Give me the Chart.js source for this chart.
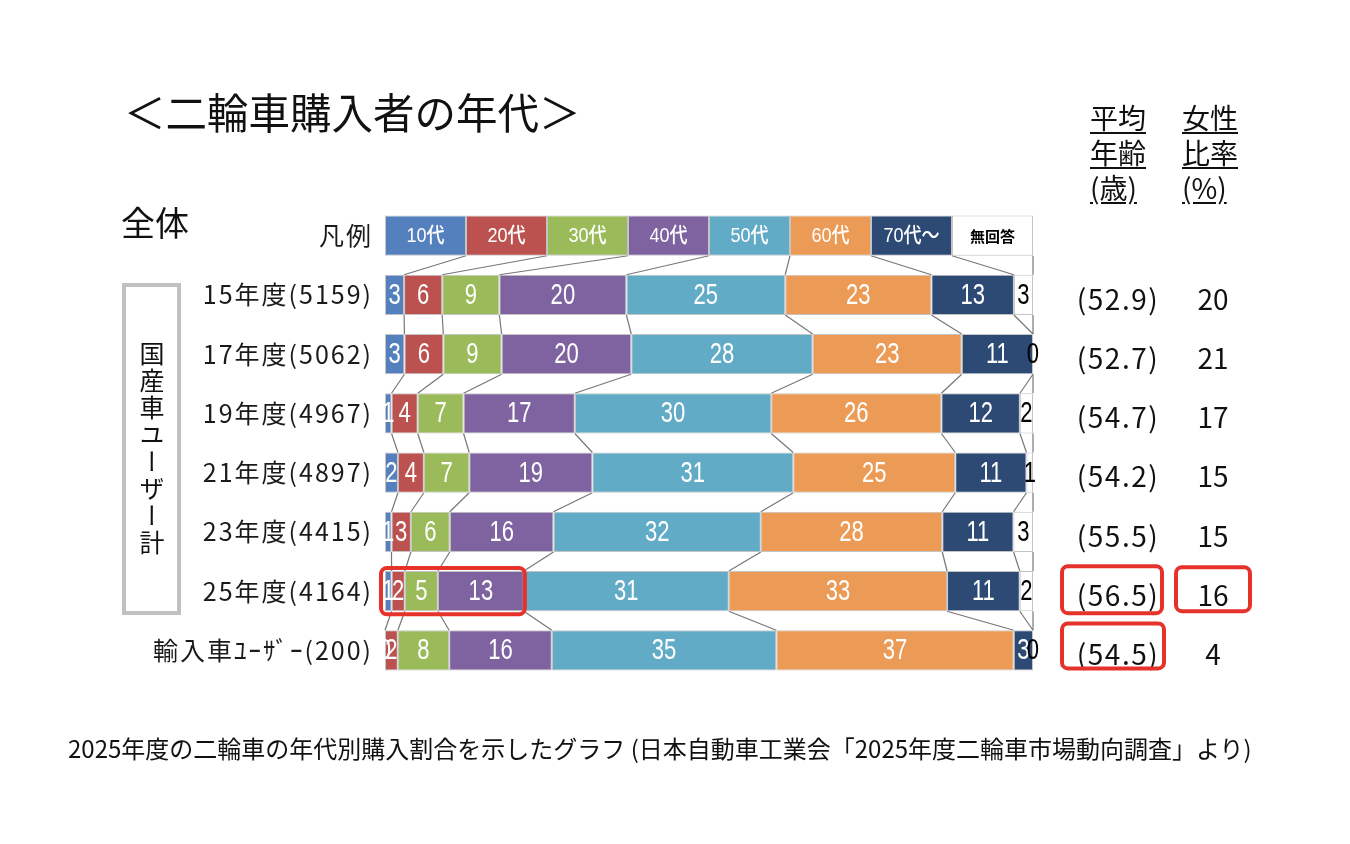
<!DOCTYPE html>
<html lang="ja">
<head>
<meta charset="utf-8">
<title>二輪車購入者の年代</title>
<script src="https://cdn.jsdelivr.net/npm/chart.js@4.4.1/dist/chart.umd.min.js"></script>
<style>
  html, body { margin: 0; padding: 0; background: #fff; }
  body { width: 1350px; height: 844px; position: relative; overflow: hidden; font-family: "Noto Sans CJK JP", sans-serif; color: #111; }
  #chart { position: absolute; left: 0; top: 0; }
  .txt { position: absolute; line-height: 1; white-space: nowrap; }
  #title { left: 124px; top: 91px; font-size: 41.5px; }
  #zentai { left: 121px; top: 205px; font-size: 34px; }
  .head { position: absolute; top: 100px; font-size: 28px; line-height: 35px; text-decoration: underline; text-underline-offset: 3px; }
  #box { position: absolute; left: 122px; top: 283px; width: 59px; height: 332px; border: 4px solid #c0c0c0; box-sizing: border-box;
         display: flex; align-items: center; justify-content: center; }
  #box span { writing-mode: vertical-rl; font-size: 25px; letter-spacing: 2px; line-height: 1; white-space: nowrap; }
  #caption { left: 68px; top: 736px; font-size: 24px; }
</style>
</head>
<body>
<canvas id="chart" width="1350" height="844"></canvas>
<div class="txt" id="title">＜二輪車購入者の年代＞</div>
<div class="txt" id="zentai">全体</div>
<div class="head" style="left:1090px">平均<br>年齢<br>(歳)</div>
<div class="head" style="left:1182px">女性<br>比率<br>(%)</div>
<div id="box"><span>国産車ユーザー計</span></div>
<div class="txt" id="caption">2025年度の二輪車の年代別購入割合を示したグラフ (日本自動車工業会「2025年度二輪車市場動向調査」より)</div>

<script>
// 年代区分と調査年度
const ageGroups = ["10代", "20代", "30代", "40代", "50代", "60代", "70代～", "無回答"];
const rowLabels = ["15年度(5159)", "17年度(5062)", "19年度(4967)", "21年度(4897)", "23年度(4415)", "25年度(4164)", "輸入車ﾕｰｻﾞｰ(200)"];

// 各年代の割合(%)
const teens     = [3, 3, 1, 2, 1, 1, 0];
const twenties  = [6, 6, 4, 4, 3, 2, 2];
const thirties  = [9, 9, 7, 7, 6, 5, 8];
const forties   = [20, 20, 17, 19, 16, 13, 16];
const fifties   = [25, 28, 30, 31, 32, 31, 35];
const sixties   = [23, 23, 26, 25, 28, 33, 37];
const seventies = [13, 11, 12, 11, 11, 11, 3];
const noAnswer  = [3, 0, 2, 1, 3, 2, 0];

// 右側の列
const avgAge = [52.9, 52.7, 54.7, 54.2, 55.5, 56.5, 54.5];
const femaleRatio = [20, 21, 17, 15, 15, 16, 4];

const series = [teens, twenties, thirties, forties, fifties, sixties, seventies, noAnswer];
const colors = ["#5580be", "#bb524f", "#9bbb5a", "#7f63a1", "#62abc6", "#eb9b55", "#2d4a74", "#ffffff"];

// 各行の合計で割って100%に揃える(先頭は凡例の行)
const totals = rowLabels.map((_, i) => series.reduce((s, arr) => s + arr[i], 0));
const datasets = series.map((arr, d) => ({
  label: ageGroups[d],
  data: [100 / ageGroups.length].concat(arr.map((v, i) => v / totals[i] * 100)),
  backgroundColor: colors[d],
  borderColor: "#c4c4c4",
  borderWidth: 1,
  borderSkipped: false,
  barPercentage: 0.68,
  categoryPercentage: 1
}));

// 目盛りラベルに字間を付ける
const tickSpacing = {
  id: "tickSpacing",
  beforeDraw(chart) { chart.ctx.letterSpacing = "2px"; },
  beforeDatasetsDraw(chart) { chart.ctx.letterSpacing = "0px"; }
};

// 行と行の間の境界線
const connectors = {
  id: "connectors",
  beforeDatasetsDraw(chart) {
    const ctx = chart.ctx;
    ctx.save();
    ctx.strokeStyle = "#777";
    ctx.lineWidth = 1.2;
    chart.data.datasets.forEach((ds, d) => {
      const bars = chart.getDatasetMeta(d).data;
      for (let i = 0; i < bars.length - 1; i++) {
        const a = bars[i], b = bars[i + 1];
        ctx.beginPath();
        ctx.moveTo(a.x, a.y + a.height / 2);
        ctx.lineTo(b.x, b.y - b.height / 2);
        ctx.stroke();
      }
    });
    ctx.restore();
  }
};

// 細長い数字にするため横方向に縮めて描く
function narrowText(ctx, text, x, y, sx) {
  ctx.save();
  ctx.translate(x, y);
  ctx.scale(sx, 1);
  ctx.fillText(text, 0, 0);
  ctx.restore();
}

const barLabels = {
  id: "barLabels",
  afterDatasetsDraw(chart) {
    const ctx = chart.ctx;
    ctx.save();
    ctx.letterSpacing = "0px";
    ctx.textAlign = "center";
    ctx.textBaseline = "middle";
    chart.data.datasets.forEach((ds, d) => {
      chart.getDatasetMeta(d).data.forEach((bar, i) => {
        const cx = (bar.x + bar.base) / 2;
        ctx.fillStyle = d === 7 ? "#000" : "#fff";
        if (i === 0) {
          if (d === 7) {
            ctx.font = 'bold 15px "Noto Sans CJK JP"';
            ctx.fillText(ageGroups[d], cx, bar.y + 1);
          } else {
            ctx.font = '500 21px "Liberation Sans", "Noto Sans CJK JP"';
            narrowText(ctx, ageGroups[d], cx, bar.y + 1, 0.86);
          }
        } else {
          ctx.font = '29px "Liberation Sans", sans-serif';
          narrowText(ctx, String(series[d][i - 1]), cx, bar.y + 1, 0.76);
        }
      });
    });
    ctx.restore();
  }
};

function redBox(ctx, x1, y1, x2, y2) {
  ctx.beginPath();
  ctx.roundRect(x1, y1, x2 - x1, y2 - y1, 6);
  ctx.stroke();
}

// 平均年齢・女性比率と赤枠
const sideColumns = {
  id: "sideColumns",
  afterDraw(chart) {
    const ctx = chart.ctx;
    const y = chart.scales.y;
    ctx.save();
    ctx.fillStyle = "#111";
    ctx.textAlign = "center";
    ctx.textBaseline = "middle";
    ctx.font = '28px "Noto Sans CJK JP", sans-serif';
    rowLabels.forEach((_, i) => {
      const py = y.getPixelForValue(i + 1) + 4;
      ctx.letterSpacing = "1.5px";
      ctx.fillText("(" + avgAge[i].toFixed(1) + ")", 1118, py);
      ctx.letterSpacing = "0px";
      ctx.fillText(String(femaleRatio[i]), 1213, py);
    });

    ctx.strokeStyle = "#e5322b";
    ctx.lineWidth = 4;
    const x = chart.scales.x;
    const r25 = 6;
    const bar = chart.getDatasetMeta(3).data[r25];
    redBox(ctx, x.getPixelForValue(0) - 4, bar.y - bar.height / 2 - 3, bar.x + 1, bar.y + bar.height / 2 + 3);
    const y25 = y.getPixelForValue(r25);
    const yImp = y.getPixelForValue(r25 + 1);
    redBox(ctx, 1062, y25 - 25, 1162, y25 + 22);
    redBox(ctx, 1176, y25 - 24, 1250, y25 + 20);
    redBox(ctx, 1062, yImp - 27, 1164, yImp + 18);
    ctx.restore();
  }
};

new Chart(document.getElementById("chart"), {
  type: "bar",
  data: { labels: ["凡例"].concat(rowLabels), datasets: datasets },
  options: {
    indexAxis: "y",
    responsive: false,
    animation: false,
    layout: { padding: { left: 0, right: 317, top: 206, bottom: 164 } },
    plugins: { legend: { display: false }, tooltip: { enabled: false } },
    scales: {
      x: { stacked: true, min: 0, max: 100, display: false },
      y: {
        stacked: true,
        grid: { display: false },
        border: { display: false },
        afterFit(scale) { scale.width = 385; },
        ticks: { padding: 4, color: "#1a1a1a", font: { family: "Noto Sans CJK JP", size: 25 } }
      }
    }
  },
  plugins: [tickSpacing, connectors, barLabels, sideColumns]
});
</script>
</body>
</html>
